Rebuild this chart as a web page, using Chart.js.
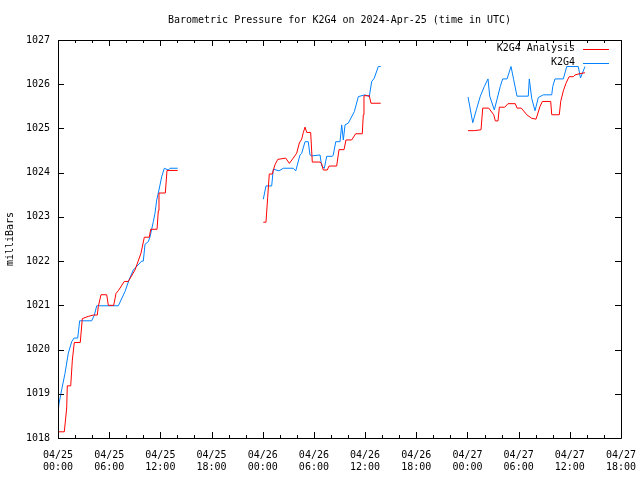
<!DOCTYPE html>
<html>
<head>
<meta charset="utf-8">
<script src="https://cdn.jsdelivr.net/npm/chart.js@4/dist/chart.umd.min.js"></script>
<style>
  html, body { margin: 0; padding: 0; background: #fff; }
  #wrap { width: 640px; height: 480px; }
</style>
</head>
<body>
<div id="wrap"><canvas id="chart" width="640" height="480"></canvas></div>
<script>
// hours since 04/25 00:00 UTC; null value = gap in the record
const analysisHours = [
  0.0, 0.74, 1.02, 1.09, 1.49, 1.68, 1.91, 2.61, 2.85, 3.55, 4.14, 4.61, 4.72, 5.04, 5.71, 5.90,
  6.53, 6.80, 7.07, 7.77, 8.24, 9.03, 9.73, 10.12, 10.70, 10.87, 11.61, 11.76, 11.84, 12.58, 12.78, 14.03,
  19.0,
  24.07, 24.38, 24.58, 24.77, 25.12, 25.44, 25.76, 26.69, 27.12, 27.58, 27.98, 28.29, 28.57, 28.76, 28.96,
  29.16, 29.62, 29.81, 30.72, 30.91, 31.10, 31.57, 31.77, 32.67, 32.94, 33.53, 33.76, 34.43, 34.90, 35.67,
  35.79, 35.87, 36.49, 36.69, 37.83,
  43.0,
  48.07, 48.80, 49.59, 49.79, 50.49, 51.08, 51.27, 51.58, 51.74, 52.37, 52.75, 53.61, 53.81, 54.31, 54.95,
  55.53, 56.04, 56.51, 56.78, 57.76, 57.88, 58.77, 58.93, 59.24, 59.55, 59.91, 60.41, 60.61, 61.20, 61.78
];
const analysisValues = [
  1018.14, 1018.14, 1018.68, 1019.18, 1019.18, 1019.76, 1020.16, 1020.16, 1020.70, 1020.75, 1020.78, 1020.78,
  1020.97, 1021.24, 1021.24, 1021.00, 1021.00, 1021.27, 1021.33, 1021.54, 1021.54, 1021.80, 1022.18, 1022.54,
  1022.54, 1022.72, 1022.72, 1023.14, 1023.54, 1023.54, 1024.05, 1024.05,
  null,
  1022.88, 1022.88, 1023.44, 1023.97, 1023.97, 1024.18, 1024.30, 1024.33, 1024.21, 1024.33, 1024.44, 1024.67,
  1024.76, 1024.91, 1025.03, 1024.91, 1024.91, 1024.24, 1024.24, 1024.20, 1024.06, 1024.06, 1024.15, 1024.15,
  1024.52, 1024.52, 1024.74, 1024.74, 1024.88, 1024.88, 1025.31, 1025.74, 1025.74, 1025.57, 1025.57,
  null,
  1024.95, 1024.95, 1024.97, 1025.46, 1025.46, 1025.31, 1025.17, 1025.17, 1025.48, 1025.48, 1025.56, 1025.56,
  1025.46, 1025.46, 1025.31, 1025.23, 1025.21, 1025.50, 1025.61, 1025.61, 1025.31, 1025.31, 1025.61, 1025.85,
  1026.02, 1026.17, 1026.17, 1026.21, 1026.24, 1026.26
];

const stationHours = [
  0.0, 0.12, 0.43, 0.82, 1.21, 1.61, 1.88, 2.31, 2.54, 3.95, 4.26, 4.54, 7.07, 7.85, 8.32, 8.83, 9.81, 10.0,
  10.2, 10.59, 10.79, 11.17, 11.37, 11.57, 11.76, 12.16, 12.46, 12.93, 13.13, 14.03,
  19.0,
  24.07, 24.38, 25.05, 25.24, 25.91, 26.41, 27.58, 27.87, 28.37, 28.57, 28.96, 29.34, 29.54, 29.74, 30.72,
  30.91, 31.22, 31.50, 32.16, 32.27, 32.56, 33.06, 33.26, 33.45, 33.65, 34.03, 34.74, 35.21, 35.99, 36.49,
  36.77, 37.08, 37.55, 37.83,
  43.0,
  48.07, 48.62, 49.04, 49.51, 49.98, 50.41, 50.61, 51.15, 51.47, 51.85, 52.13, 52.64, 53.11, 53.42, 53.81,
  55.13, 55.25, 55.53, 55.92, 56.31, 56.89, 57.88, 58.0, 58.26, 59.24, 59.64, 60.99, 61.25, 61.78
];
const stationValues = [
  1018.57, 1018.78, 1019.09, 1019.46, 1019.92, 1020.18, 1020.26, 1020.26, 1020.65, 1020.65, 1020.78, 1020.99,
  1020.99, 1021.31, 1021.57, 1021.80, 1022.00, 1022.00, 1022.38, 1022.44, 1022.55, 1022.89, 1023.08, 1023.38,
  1023.54, 1023.91, 1024.10, 1024.06, 1024.10, 1024.10,
  null,
  1023.40, 1023.70, 1023.70, 1024.08, 1024.04, 1024.10, 1024.10, 1024.04, 1024.40, 1024.44, 1024.70, 1024.70,
  1024.40, 1024.38, 1024.40, 1024.15, 1024.10, 1024.37, 1024.37, 1024.40, 1024.70, 1024.70, 1025.08, 1024.74,
  1025.08, 1025.12, 1025.38, 1025.72, 1025.76, 1025.72, 1026.06, 1026.14, 1026.40, 1026.40,
  null,
  1025.71, 1025.13, 1025.42, 1025.73, 1025.95, 1026.12, 1025.73, 1025.42, 1025.66, 1025.95, 1026.12, 1026.12,
  1026.40, 1026.10, 1025.73, 1025.73, 1026.12, 1025.68, 1025.40, 1025.70, 1025.76, 1025.76, 1025.95, 1026.12,
  1026.12, 1026.40, 1026.40, 1026.14, 1026.40
];

const xTickDates = ["04/25", "04/25", "04/25", "04/25", "04/26", "04/26", "04/26", "04/26", "04/27", "04/27", "04/27", "04/27"];
const xTickTimes = ["00:00", "06:00", "12:00", "18:00", "00:00", "06:00", "12:00", "18:00", "00:00", "06:00", "12:00", "18:00"];

const chartTitle = "Barometric Pressure for K2G4 on 2024-Apr-25 (time in UTC)";
const FONT = "'DejaVu Sans Mono', 'Liberation Mono', monospace";

function toPoints(hours, values) {
  return hours.map((h, i) => ({ x: h, y: values[i] }));
}

// gnuplot-like frame with inward ticks on all four sides, title over the plot, legend top right
const framePlugin = {
  id: "frame",
  afterDraw(chart) {
    const { ctx, chartArea: a, scales } = chart;
    const xs = scales.x, ys = scales.y;
    ctx.save();
    ctx.strokeStyle = "#000";
    ctx.lineWidth = 1;
    ctx.beginPath();
    ctx.rect(Math.round(a.left) + 0.5, Math.round(a.top) + 0.5, Math.round(a.right - a.left), Math.round(a.bottom - a.top));
    ctx.stroke();

    ctx.beginPath();
    for (let h = xs.min; h <= xs.max; h += 2) {
      const px = Math.round(xs.getPixelForValue(h)) + 0.5;
      const len = (h % 6 === 0) ? 6 : 3;
      ctx.moveTo(px, a.bottom); ctx.lineTo(px, a.bottom - len);
      ctx.moveTo(px, a.top); ctx.lineTo(px, a.top + len);
    }
    for (let v = ys.min; v <= ys.max; v += 1) {
      const py = Math.round(ys.getPixelForValue(v)) + 0.5;
      ctx.moveTo(a.left, py); ctx.lineTo(a.left + 6, py);
      ctx.moveTo(a.right, py); ctx.lineTo(a.right - 6, py);
    }
    ctx.stroke();

    ctx.font = "10px " + FONT;
    ctx.fillStyle = "#000";
    ctx.textAlign = "center";
    ctx.textBaseline = "middle";
    ctx.fillText(chartTitle, (a.left + a.right) / 2, 20);

    ctx.textAlign = "right";
    chart.data.datasets.forEach((ds, i) => {
      const y = a.top + 8.5 + i * 14;
      ctx.fillStyle = "#000";
      ctx.fillText(ds.label, a.right - 46, y);
      ctx.strokeStyle = ds.borderColor;
      ctx.beginPath();
      ctx.moveTo(a.right - 38, Math.round(y) + 0.5);
      ctx.lineTo(a.right - 12, Math.round(y) + 0.5);
      ctx.stroke();
    });
    ctx.restore();
  }
};

new Chart(document.getElementById("chart"), {
  type: "line",
  data: {
    datasets: [
      {
        label: "K2G4 Analysis",
        data: toPoints(analysisHours, analysisValues),
        borderColor: "#ff0000",
        borderWidth: 1,
        pointRadius: 0,
        tension: 0,
        spanGaps: false
      },
      {
        label: "K2G4",
        data: toPoints(stationHours, stationValues),
        borderColor: "#0080ff",
        borderWidth: 1,
        pointRadius: 0,
        tension: 0,
        spanGaps: false
      }
    ]
  },
  options: {
    responsive: false,
    animation: false,
    layout: { padding: { left: 0, right: 19, top: 40, bottom: 0 } },
    plugins: {
      legend: { display: false },
      tooltip: { enabled: false },
      title: { display: false }
    },
    scales: {
      x: {
        type: "linear",
        min: 0,
        max: 66,
        grid: { display: false, drawTicks: false },
        border: { display: false },
        ticks: {
          stepSize: 6,
          autoSkip: false,
          maxRotation: 0,
          padding: 11,
          color: "#000",
          font: { family: FONT, size: 10, lineHeight: 1.2 },
          callback: (v) => {
            const i = Math.round(v / 6);
            return [xTickDates[i], xTickTimes[i]];
          }
        },
        afterFit: (s) => { s.height = 42; s.paddingLeft = 0; s.paddingRight = 0; }
      },
      y: {
        min: 1018,
        max: 1027,
        grid: { display: false, drawTicks: false },
        border: { display: false },
        ticks: {
          stepSize: 1,
          padding: 8,
          color: "#000",
          font: { family: FONT, size: 10 },
          callback: (v) => String(v)
        },
        title: {
          display: true,
          text: "milliBars",
          color: "#000",
          font: { family: FONT, size: 10, lineHeight: 1.2 },
          padding: { top: 4, bottom: 0 }
        },
        afterFit: (s) => { s.width = 58; s.paddingTop = 0; s.paddingBottom = 0; }
      }
    }
  },
  plugins: [framePlugin]
});
</script>
</body>
</html>
